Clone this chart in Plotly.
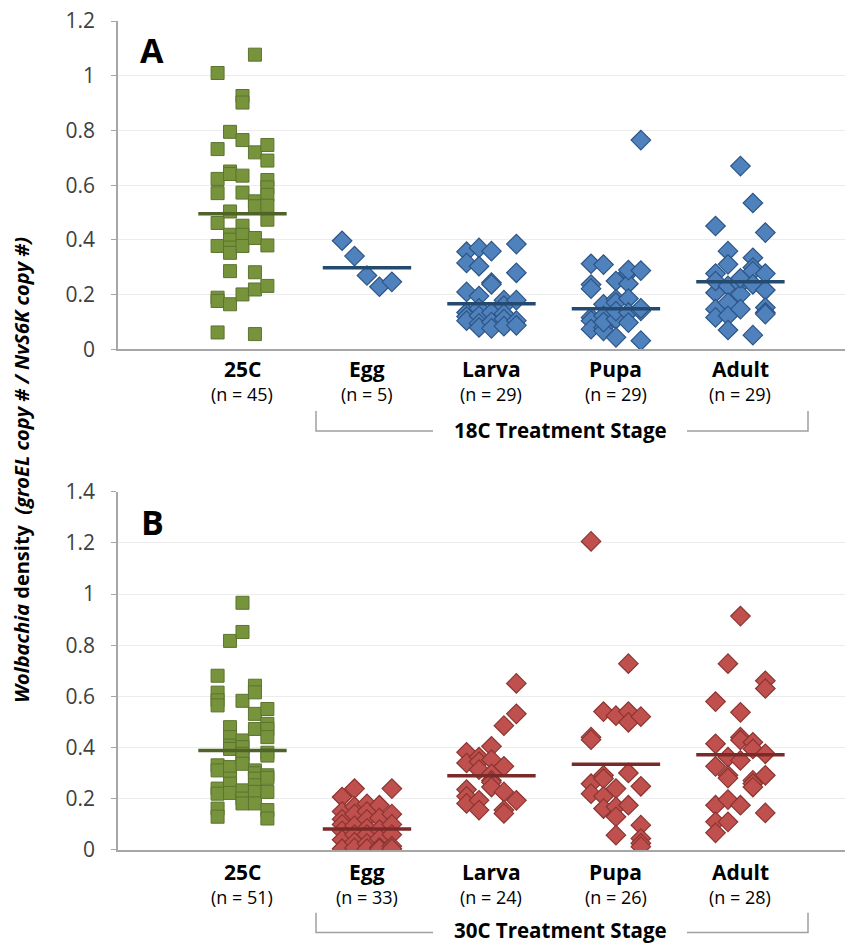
import plotly.graph_objects as go

# ---------------- data ----------------
categories = ["25C", "Egg", "Larva", "Pupa", "Adult"]
col_offsets = [-2, -1, 0, 1, 2]          # jitter column index of each sub-list
A_n = [45, 5, 29, 29, 29]
B_n = [51, 33, 24, 26, 28]
A_means = [0.496, 0.298, 0.167, 0.149, 0.247]
B_means = [0.389, 0.082, 0.290, 0.335, 0.372]
A_stage_label = "18C Treatment Stage"
B_stage_label = "30C Treatment Stage"

# Panel A (18C) values, one sub-list per jitter column
A_25C = [[1.010, 0.732, 0.623, 0.571, 0.462, 0.378, 0.189, 0.177, 0.062],
         [0.795, 0.650, 0.641, 0.504, 0.419, 0.401, 0.372, 0.353, 0.286, 0.165],
         [0.926, 0.902, 0.765, 0.635, 0.573, 0.452, 0.419, 0.378, 0.201],
         [1.077, 0.720, 0.541, 0.523, 0.407, 0.282, 0.219, 0.056],
         [0.747, 0.690, 0.619, 0.592, 0.565, 0.525, 0.474, 0.380, 0.232]]
A_Egg = [[0.397], [0.341], [0.270], [0.229], [0.247]]
A_Larva = [[0.357, 0.316, 0.210, 0.135, 0.120, 0.105],
           [0.371, 0.304, 0.195, 0.150, 0.123, 0.095, 0.080],
           [0.359, 0.244, 0.238, 0.135, 0.100, 0.077],
           [0.180, 0.160, 0.130, 0.111, 0.085],
           [0.385, 0.280, 0.180, 0.105, 0.088]]
A_Pupa = [[0.313, 0.237, 0.222, 0.117, 0.105, 0.074],
          [0.310, 0.165, 0.123, 0.080, 0.068, 0.100],
          [0.250, 0.183, 0.171, 0.111, 0.044, 0.140],
          [0.280, 0.240, 0.186, 0.135, 0.098, 0.290],
          [0.288, 0.141, 0.032, 0.765, 0.150]]
A_Adult = [[0.451, 0.277, 0.207, 0.147, 0.117, 0.250],
           [0.359, 0.311, 0.232, 0.171, 0.123, 0.071],
           [0.670, 0.238, 0.201, 0.147, 0.260],
           [0.535, 0.335, 0.299, 0.286, 0.238, 0.052],
           [0.427, 0.277, 0.217, 0.153, 0.135, 0.129]]

# Panel B (30C) values
B_25C = [[0.681, 0.615, 0.585, 0.565, 0.331, 0.311, 0.240, 0.220, 0.162, 0.130],
         [0.817, 0.480, 0.441, 0.408, 0.395, 0.324, 0.279, 0.259, 0.223],
         [0.966, 0.852, 0.583, 0.428, 0.402, 0.376, 0.360, 0.337, 0.233, 0.201, 0.182],
         [0.642, 0.616, 0.532, 0.473, 0.311, 0.300, 0.279, 0.253, 0.227, 0.182],
         [0.551, 0.493, 0.473, 0.441, 0.380, 0.369, 0.292, 0.282, 0.227, 0.156, 0.123]]
B_Egg = [[0.207, 0.150, 0.120, 0.100, 0.075, 0.040, 0.005],
         [0.240, 0.170, 0.140, 0.095, 0.060, 0.030, 0.008],
         [0.180, 0.150, 0.120, 0.085, 0.060, 0.025, 0.005],
         [0.175, 0.125, 0.080, 0.045, 0.010, 0.005],
         [0.240, 0.140, 0.100, 0.060, 0.015, 0.005]]
B_Larva = [[0.382, 0.340, 0.236, 0.210, 0.182],
           [0.363, 0.345, 0.314, 0.194, 0.156],
           [0.405, 0.353, 0.298, 0.272, 0.265, 0.246],
           [0.486, 0.327, 0.227, 0.156, 0.143],
           [0.651, 0.532, 0.194]]
B_Pupa = [[1.206, 0.441, 0.431, 0.259, 0.220],
          [0.541, 0.292, 0.279, 0.210, 0.162],
          [0.525, 0.240, 0.169, 0.130, 0.058],
          [0.728, 0.541, 0.499, 0.301, 0.175],
          [0.521, 0.249, 0.097, 0.045, 0.026, 0.013]]
B_Adult = [[0.580, 0.415, 0.327, 0.175, 0.110, 0.067],
           [0.728, 0.363, 0.292, 0.281, 0.197, 0.110],
           [0.914, 0.538, 0.441, 0.430, 0.350, 0.175],
           [0.421, 0.395, 0.272, 0.260, 0.246],
           [0.661, 0.631, 0.376, 0.292, 0.145]]

A_groups = [A_25C, A_Egg, A_Larva, A_Pupa, A_Adult]
B_groups = [B_25C, B_Egg, B_Larva, B_Pupa, B_Adult]

# ---------------- styles ----------------
JIT = 0.1
HALF = 0.355
GREEN, GREEN_EDGE, GREEN_MEAN = "#77933C", "#5b7430", "#4F6228"
BLUE, BLUE_EDGE, BLUE_MEAN = "#4F81BD", "#2d5585", "#254a70"
RED, RED_EDGE, RED_MEAN = "#C0504D", "#8a3532", "#7a2b29"
AXCOL = "#a6a6a6"
GRID = "#ececec"
FONT = "Open Sans"

fig = go.Figure()


def add_panel(groups, means, color, edge, meancol, xa, ya):
    for i, grp in enumerate(groups):
        xs, ys = [], []
        for c, vals in zip(col_offsets, grp):
            for v in vals:
                xs.append(i + 1 + c * JIT)
                ys.append(v)
        if i == 0:
            mk = dict(symbol="square", size=13, color=GREEN,
                      line=dict(color=GREEN_EDGE, width=1))
            mc = GREEN_MEAN
        else:
            mk = dict(symbol="diamond", size=15, color=color,
                      line=dict(color=edge, width=1.2))
            mc = meancol
        fig.add_trace(go.Scatter(x=xs, y=ys, mode="markers", marker=mk,
                                 xaxis=xa, yaxis=ya, showlegend=False,
                                 hoverinfo="y"))
        fig.add_trace(go.Scatter(x=[i + 1 - HALF, i + 1 + HALF],
                                 y=[means[i], means[i]], mode="lines",
                                 line=dict(color=mc, width=3.5),
                                 xaxis=xa, yaxis=ya, showlegend=False,
                                 hoverinfo="skip"))


add_panel(A_groups, A_means, BLUE, BLUE_EDGE, BLUE_MEAN, "x", "y")
add_panel(B_groups, B_means, RED, RED_EDGE, RED_MEAN, "x2", "y2")

# geometry (pixel based)
W, H = 851, 944
L, R, T, B = 118, 6, 17, 94
PH = H - T - B  # plot height in px


def py(p):  # pixel y -> paper y
    return (H - B - p) / PH


def px(p):  # pixel x -> paper x
    return (p - L) / (W - L - R)


xcommon = dict(range=[0, 5.84], showticklabels=False, showgrid=False,
               zeroline=False, showline=True, linecolor=AXCOL, linewidth=1.5,
               ticks="", fixedrange=True)
ycommon = dict(dtick=0.2, showgrid=True, gridcolor=GRID, gridwidth=1,
               zeroline=False, showline=True, linecolor=AXCOL, linewidth=1.5,
               ticks="outside", ticklen=5, tickcolor=AXCOL, tickwidth=1,
               tickfont=dict(family=FONT, size=21, color="#404040"),
               ticklabelstandoff=12, fixedrange=True)

fig.update_layout(
    width=W, height=H,
    margin=dict(l=L, r=R, t=T, b=B),
    paper_bgcolor="white", plot_bgcolor="white",
    xaxis=dict(domain=[0, 1], anchor="y", **xcommon),
    yaxis=dict(domain=[py(347), 1], range=[0, 1.2], anchor="x", **ycommon),
    xaxis2=dict(domain=[0, 1], anchor="y2", **xcommon),
    yaxis2=dict(domain=[0, py(490)], range=[0, 1.4], anchor="x2", **ycommon),
    font=dict(family=FONT, color="black"),
)

ann = []
for i, cat in enumerate(categories):
    for (n, yl, yn, xa) in [(A_n[i], 367, 392, "x"), (B_n[i], 872, 897, "x2")]:
        ann.append(dict(x=i + 1, xref=xa, y=py(yl), yref="paper",
                        text=f"<b>{cat}</b>", showarrow=False,
                        font=dict(family=FONT, size=21, color="black"),
                        xanchor="center", yanchor="middle"))
        ann.append(dict(x=i + 1, xref=xa, y=py(yn), yref="paper",
                        text=f"(n = {n})", showarrow=False,
                        font=dict(family=FONT, size=18, color="black"),
                        xanchor="center", yanchor="middle"))

for lab, yy in [(A_stage_label, 428), (B_stage_label, 930)]:
    ann.append(dict(x=px(560), xref="paper", y=py(yy), yref="paper",
                    text=f"<b>{lab}</b>", showarrow=False,
                    font=dict(family=FONT, size=20.5, color="black"),
                    xanchor="center", yanchor="middle"))

ann.append(dict(x=px(152), xref="paper", y=py(46), yref="paper", text="<b>A</b>",
                showarrow=False, font=dict(family=FONT, size=34, color="black"),
                xanchor="center", yanchor="middle"))
ann.append(dict(x=px(152), xref="paper", y=py(520), yref="paper", text="<b>B</b>",
                showarrow=False, font=dict(family=FONT, size=34, color="black"),
                xanchor="center", yanchor="middle"))

ann.append(dict(x=px(22), xref="paper", y=py(468), yref="paper",
                text="<b><i>Wolbachia</i> density  <i>(groEL copy # / NvS6K copy #)</i></b>",
                textangle=-90, showarrow=False,
                font=dict(family=FONT, size=20, color="black"),
                xanchor="center", yanchor="middle"))
fig.update_layout(annotations=ann)

shapes = []
for ytop, ybot in [(409, 429), (913, 933)]:
    for pts in [[(316, ytop), (316, ybot), (433, ybot)],
                [(687, ybot), (808, ybot), (808, ytop)]]:
        path = "M " + " L ".join(f"{px(a)},{py(b)}" for a, b in pts)
        shapes.append(dict(type="path", path=path, xref="paper", yref="paper",
                           line=dict(color="#a0a0a0", width=1.5)))
fig.update_layout(shapes=shapes)

fig.write_html("out.html", config={"displayModeBar": False},
               post_script="document.body.style.margin='0';document.body.style.overflow='hidden';")
